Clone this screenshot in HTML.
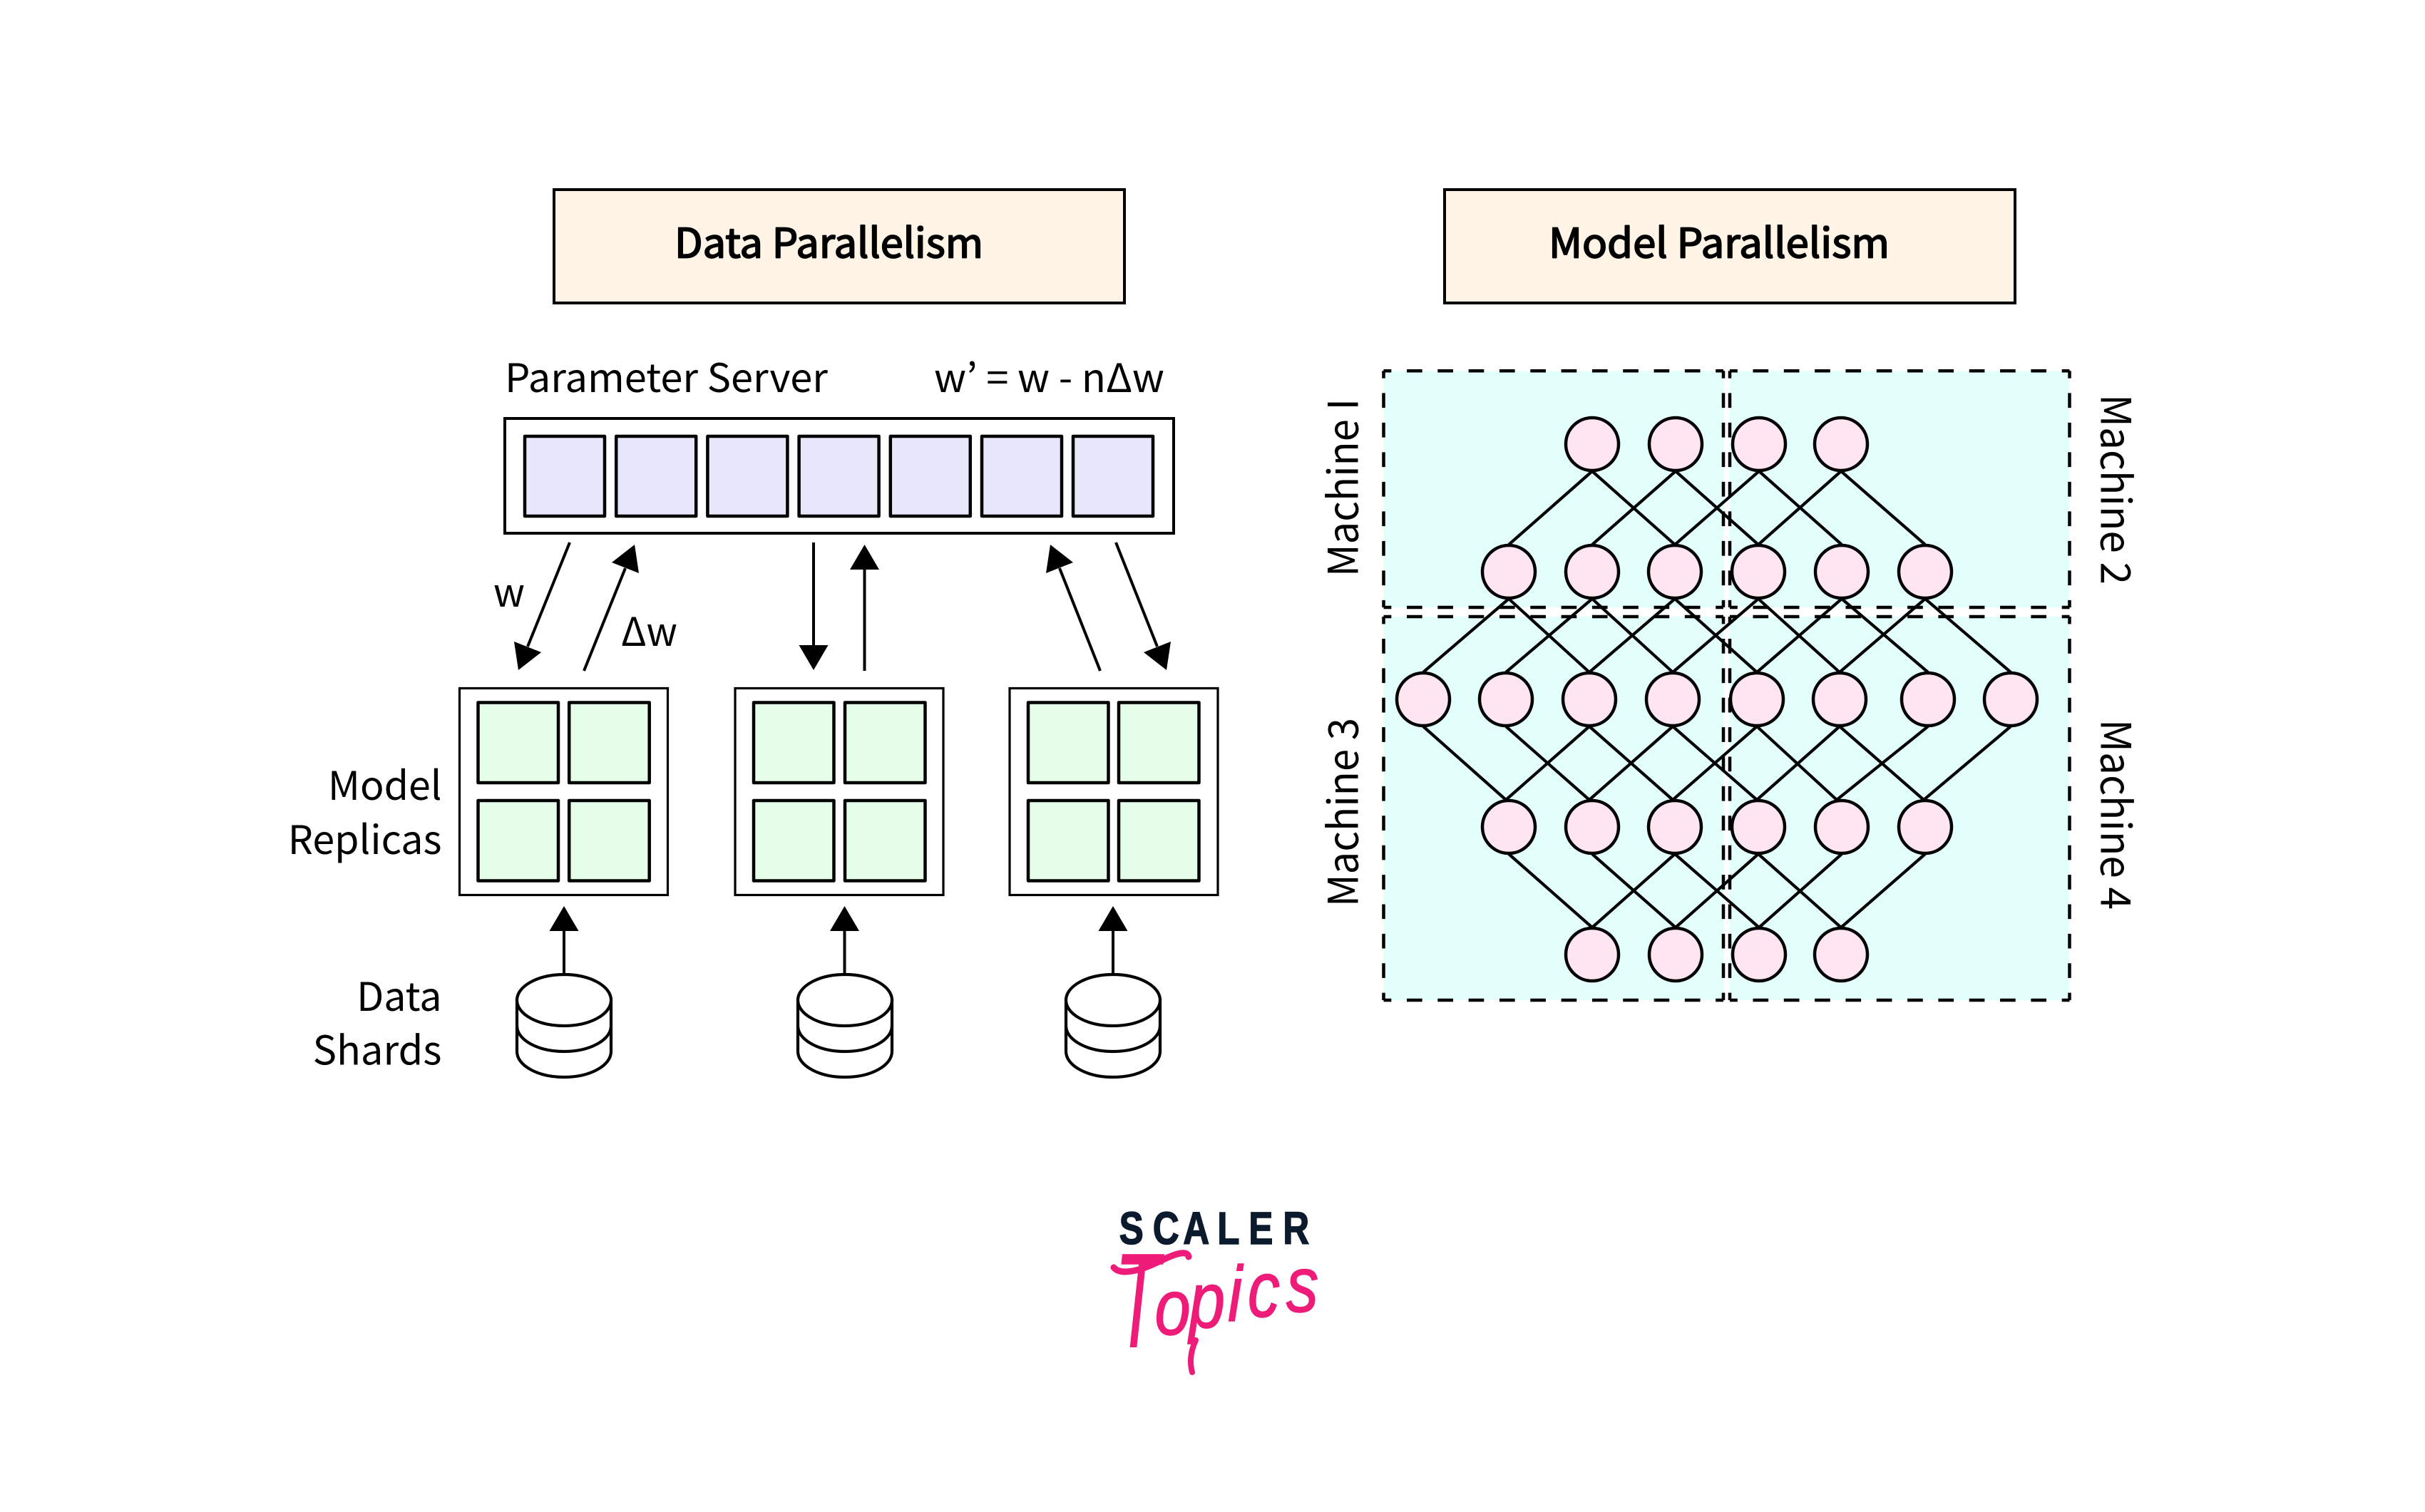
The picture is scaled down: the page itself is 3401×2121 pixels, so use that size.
<!DOCTYPE html>
<html><head><meta charset="utf-8"><style>
html,body{margin:0;padding:0;background:#fff}
svg{display:block}
text{font-family:"Liberation Sans","Noto Sans CJK JP",sans-serif}
.n{font-family:"Noto Sans CJK JP","Noto Sans CJK SC",sans-serif;font-size:55.5px;fill:#000}
.m{font-size:58px}
.b{font-size:57px;stroke:#000;stroke-width:1.8px;stroke-linejoin:round}
.ps{fill:#e7e6fb;stroke:#000;stroke-width:4.5;stroke-linejoin:round}
.g{fill:#e5fee9;stroke:#000;stroke-width:4.5;stroke-linejoin:round}
.o{fill:#fff;stroke:#000;stroke-width:3.2}
.h,.v1,.v2{fill:none;stroke:#000;stroke-width:4.5}
.h{stroke-dasharray:21.66 21.66;stroke-dashoffset:10.83}
.v1{stroke-dasharray:20.75 20.75;stroke-dashoffset:10.375}
.v2{stroke-dasharray:20.69 20.69;stroke-dashoffset:10.35}
.e{stroke:#000;stroke-width:4.2;fill:none}
.c{fill:#ffe5f0;stroke:#000;stroke-width:4.5}
</style></head><body>
<svg xmlns="http://www.w3.org/2000/svg" width="3401" height="2121" viewBox="0 0 3401 2121">
<rect width="3401" height="2121" fill="#fff"/>
<!-- headers -->
<rect x="777" y="266" width="800" height="159" fill="#fff4e6" stroke="#000" stroke-width="4"/>
<rect x="2026" y="266" width="800" height="159" fill="#fff4e6" stroke="#000" stroke-width="4"/>
<text class="n b" x="946" y="361.5" textLength="433" lengthAdjust="spacingAndGlyphs">Data Parallelism</text>
<text class="n b" x="2172" y="361.5" textLength="478" lengthAdjust="spacingAndGlyphs">Model Parallelism</text>
<!-- parameter server -->
<text class="n" x="708" y="550" textLength="453" lengthAdjust="spacingAndGlyphs">Parameter Server</text>
<text class="n" x="1310" y="550" textLength="323" lengthAdjust="spacingAndGlyphs">w’ = w - nΔw</text>
<rect x="708" y="587" width="938" height="161" fill="#fff" stroke="#000" stroke-width="4"/>
<rect class="ps" x="736" y="612" width="112" height="112"/>
<rect class="ps" x="864.2" y="612" width="112" height="112"/>
<rect class="ps" x="992.4" y="612" width="112" height="112"/>
<rect class="ps" x="1120.6" y="612" width="112" height="112"/>
<rect class="ps" x="1248.8" y="612" width="112" height="112"/>
<rect class="ps" x="1377" y="612" width="112" height="112"/>
<rect class="ps" x="1505" y="612" width="112" height="112"/>
<!-- arrows -->
<g stroke="#000" stroke-width="4" fill="none">
<line x1="799" y1="761" x2="740" y2="907"/>
<line x1="819" y1="941" x2="877" y2="797"/>
<line x1="1141" y1="761" x2="1141" y2="906"/>
<line x1="1212.5" y1="941" x2="1212.5" y2="798"/>
<line x1="1543" y1="941" x2="1486" y2="797"/>
<line x1="1565" y1="761" x2="1623" y2="907"/>
<line x1="791" y1="1365" x2="791" y2="1305"/>
<line x1="1184.5" y1="1365" x2="1184.5" y2="1305"/>
<line x1="1561" y1="1365" x2="1561" y2="1305"/>
</g>
<g fill="#000">
<polygon points="727,940 759,915 721,900"/>
<polygon points="890,764 896,804 858,789"/>
<polygon points="1141,940 1120.5,905 1161.5,905"/>
<polygon points="1212.5,764 1192,799 1233,799"/>
<polygon points="1473,764 1505,789 1467,804"/>
<polygon points="1636,940 1642,900 1604,915"/>
<polygon points="791,1271 770.5,1306 811.5,1306"/>
<polygon points="1184.5,1271 1164,1306 1205,1306"/>
<polygon points="1561,1271 1540.5,1306 1581.5,1306"/>
</g>
<text class="n" x="692" y="851" textLength="44" lengthAdjust="spacingAndGlyphs">w</text>
<text class="n" x="871" y="906" textLength="79" lengthAdjust="spacingAndGlyphs">Δw</text>
<!-- replicas -->
<rect class="o" x="644.5" y="965.5" width="292" height="290"/>
<rect class="o" x="1031" y="965.5" width="292" height="290"/>
<rect class="o" x="1416" y="965.5" width="292" height="290"/>
<rect class="g" x="670.5" y="985.5" width="112.5" height="112.5"/><rect class="g" x="798.2" y="985.5" width="112.5" height="112.5"/>
<rect class="g" x="670.5" y="1123" width="112.5" height="112.5"/><rect class="g" x="798.2" y="1123" width="112.5" height="112.5"/>
<rect class="g" x="1057" y="985.5" width="112.5" height="112.5"/><rect class="g" x="1185" y="985.5" width="112.5" height="112.5"/>
<rect class="g" x="1057" y="1123" width="112.5" height="112.5"/><rect class="g" x="1185" y="1123" width="112.5" height="112.5"/>
<rect class="g" x="1442" y="985.5" width="112.5" height="112.5"/><rect class="g" x="1569" y="985.5" width="112.5" height="112.5"/>
<rect class="g" x="1442" y="1123" width="112.5" height="112.5"/><rect class="g" x="1569" y="1123" width="112.5" height="112.5"/>
<text class="n" x="619.5" y="1122" text-anchor="end">Model</text>
<text class="n" x="619.5" y="1198" text-anchor="end">Replicas</text>
<text class="n" x="619.5" y="1418" text-anchor="end">Data</text>
<text class="n" x="619.5" y="1493.5" text-anchor="end" style="font-size:56px">Shards</text>
<!-- databases -->
<g stroke="#000" stroke-width="4.2" fill="#fff">
<path d="M725,1403 v72 a66,36 0 0 0 132,0 v-72 z"/>
<path d="M725,1439 a66,36 0 0 0 132,0" fill="none"/><path d="M725,1403 a66,36 0 0 0 132,0 a66,36 0 0 0 -132,0z"/>
<path d="M1119,1403 v72 a66,36 0 0 0 132,0 v-72 z"/>
<path d="M1119,1439 a66,36 0 0 0 132,0" fill="none"/><path d="M1119,1403 a66,36 0 0 0 132,0 a66,36 0 0 0 -132,0z"/>
<path d="M1495,1403 v72 a66,36 0 0 0 132,0 v-72 z"/>
<path d="M1495,1439 a66,36 0 0 0 132,0" fill="none"/><path d="M1495,1403 a66,36 0 0 0 132,0 a66,36 0 0 0 -132,0z"/>
</g>
<!-- machine areas -->
<rect x="1940.5" y="520.3" width="476.5" height="331.7" fill="#e3fffc"/>
<rect x="2426" y="520.3" width="476" height="331.7" fill="#e3fffc"/>
<rect x="1940.5" y="865" width="476.5" height="538" fill="#e3fffc"/>
<rect x="2426" y="865" width="476" height="538" fill="#e3fffc"/>
<g>
<line class="h" x1="1940.5" y1="520.3" x2="2417" y2="520.3"/><line class="h" x1="1940.5" y1="852" x2="2417" y2="852"/>
<line class="h" x1="2426" y1="520.3" x2="2902.5" y2="520.3"/><line class="h" x1="2426" y1="852" x2="2902.5" y2="852"/>
<line class="h" x1="1940.5" y1="865" x2="2417" y2="865"/><line class="h" x1="1940.5" y1="1403" x2="2417" y2="1403"/>
<line class="h" x1="2426" y1="865" x2="2902.5" y2="865"/><line class="h" x1="2426" y1="1403" x2="2902.5" y2="1403"/>
<line class="v1" x1="1940.5" y1="520.3" x2="1940.5" y2="852"/><line class="v1" x1="2417" y1="520.3" x2="2417" y2="852"/>
<line class="v1" x1="2426" y1="520.3" x2="2426" y2="852"/><line class="v1" x1="2902.5" y1="520.3" x2="2902.5" y2="852"/>
<line class="v2" x1="1940.5" y1="865" x2="1940.5" y2="1403"/><line class="v2" x1="2417" y1="865" x2="2417" y2="1403"/>
<line class="v2" x1="2426" y1="865" x2="2426" y2="1403"/><line class="v2" x1="2902.5" y1="865" x2="2902.5" y2="1403"/>
</g>
<text class="n m" transform="translate(1904.3,809) rotate(-90)" textLength="250" lengthAdjust="spacingAndGlyphs">Machine I</text>
<text class="n m" transform="translate(2946.7,553) rotate(90)" textLength="267" lengthAdjust="spacingAndGlyphs">Machine 2</text>
<text class="n m" transform="translate(1904.3,1272) rotate(-90)" textLength="265" lengthAdjust="spacingAndGlyphs">Machine 3</text>
<text class="n m" transform="translate(2946.7,1009) rotate(90)" textLength="267" lengthAdjust="spacingAndGlyphs">Machine 4</text>
<!-- network edges -->
<g class="e">
<path d="M2233,661L2116,764M2233,661L2349,764M2350,661L2233,764M2350,661L2466,764M2467,661L2349,764M2467,661L2583,764M2582,661L2466,764M2582,661L2700,764"/>
<path d="M2116,840L1996,943M2116,840L2229,943M2233,840L2112,943M2233,840L2346,943M2349,840L2229,943M2349,840L2464,943M2466,840L2346,943M2466,840L2580,943M2583,840L2464,943M2583,840L2704,943M2700,840L2580,943M2700,840L2820,943"/>
<path d="M1996,1019L2112,1122M2112,1019L2229,1122M2229,1019L2112,1122M2229,1019L2346,1122M2346,1019L2229,1122M2346,1019L2464,1122M2464,1019L2346,1122M2464,1019L2576,1122M2580,1019L2464,1122M2580,1019L2698,1122M2704,1019L2576,1122M2820,1019L2698,1122"/>
<path d="M2116,1198L2233,1301M2233,1198L2350,1301M2349,1198L2233,1301M2349,1198L2467,1301M2466,1198L2350,1301M2466,1198L2582,1301M2583,1198L2467,1301M2700,1198L2582,1301"/>
</g>
<!-- nodes -->
<g class="c">
<circle cx="2233" cy="623" r="37"/><circle cx="2350" cy="623" r="37"/><circle cx="2467" cy="623" r="37"/><circle cx="2582" cy="623" r="37"/>
<circle cx="2116" cy="802" r="37"/><circle cx="2233" cy="802" r="37"/><circle cx="2349" cy="802" r="37"/><circle cx="2466" cy="802" r="37"/><circle cx="2583" cy="802" r="37"/><circle cx="2700" cy="802" r="37"/>
<circle cx="1996" cy="981" r="37"/><circle cx="2112" cy="981" r="37"/><circle cx="2229" cy="981" r="37"/><circle cx="2346" cy="981" r="37"/><circle cx="2464" cy="981" r="37"/><circle cx="2580" cy="981" r="37"/><circle cx="2704" cy="981" r="37"/><circle cx="2820" cy="981" r="37"/>
<circle cx="2116" cy="1160" r="37"/><circle cx="2233" cy="1160" r="37"/><circle cx="2349" cy="1160" r="37"/><circle cx="2466" cy="1160" r="37"/><circle cx="2583" cy="1160" r="37"/><circle cx="2700" cy="1160" r="37"/>
<circle cx="2233" cy="1339" r="37"/><circle cx="2350" cy="1339" r="37"/><circle cx="2467" cy="1339" r="37"/><circle cx="2582" cy="1339" r="37"/>
</g>
<!-- logo -->
<g transform="scale(.8,1)">
<text x="1962 2021 2074 2134 2189 2249" y="1745" font-weight="700" font-size="64" fill="#0b1a2d" stroke="#0b1a2d" stroke-width="1.5" style="font-family:'Liberation Sans',sans-serif">SCALER</text>
</g>
<g fill="#ef1b78" stroke="#ef1b78" font-style="italic" style="font-family:'Liberation Sans',sans-serif">
<text transform="translate(1563,1890) scale(.55,1)" font-size="190" stroke-width="0" style="font-family:'Liberation Sans',sans-serif">T</text>
<g transform="scale(.82,1)" stroke-width="1.5">
<text x="1975" y="1872" font-size="110" style="font-family:'Liberation Sans',sans-serif">o</text>
<text x="2034" y="1862" font-size="110" style="font-family:'Liberation Sans',sans-serif">p</text>
<text x="2100" y="1853" font-size="110" style="font-family:'Liberation Sans',sans-serif">i</text>
<text x="2134" y="1847" font-size="110" style="font-family:'Liberation Sans',sans-serif">c</text>
<text x="2200" y="1840" font-size="110" style="font-family:'Liberation Sans',sans-serif">s</text>
</g>
</g>
<path d="M1562,1778 C1572,1790 1600,1782 1625,1770 C1645,1760 1665,1752 1667,1763" fill="none" stroke="#ef1b78" stroke-width="9" stroke-linecap="round"/>
<path d="M1677,1880 C1670,1895 1668,1910 1672,1925" fill="none" stroke="#ef1b78" stroke-width="8" stroke-linecap="round"/>
</svg>
</body></html>
